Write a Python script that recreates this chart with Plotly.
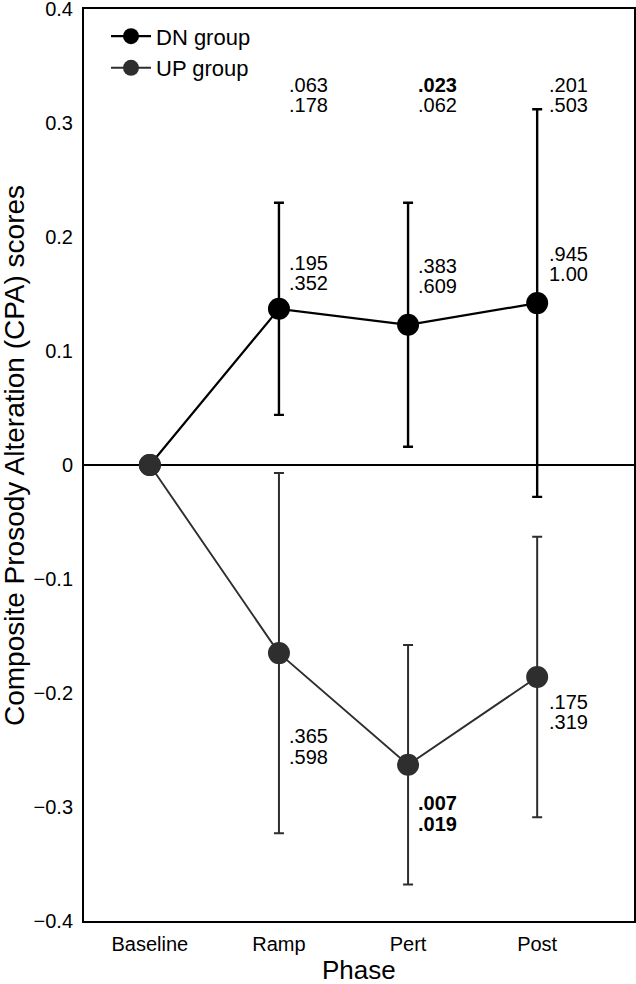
import plotly.graph_objects as go

# ---- data ----
phases = ["Baseline", "Ramp", "Pert", "Post"]
dn_mean = [0.0, 0.137, 0.123, 0.142]
dn_err = [0.0, 0.093, 0.107, 0.170]
up_mean = [0.0, -0.165, -0.263, -0.186]
up_err = [0.0, 0.158, 0.105, 0.123]

# p-value labels (two lines each), bold flags
top_labels = {"Ramp": [".063", ".178"], "Pert": [".023", ".062"], "Post": [".201", ".503"]}
top_bold = {"Ramp": [False, False], "Pert": [True, False], "Post": [False, False]}
dn_labels = {"Ramp": [".195", ".352"], "Pert": [".383", ".609"], "Post": [".945", "1.00"]}
dn_bold = {"Ramp": [False, False], "Pert": [False, False], "Post": [False, False]}
up_labels = {"Ramp": [".365", ".598"], "Pert": [".007", ".019"], "Post": [".175", ".319"]}
up_bold = {"Ramp": [False, False], "Pert": [True, True], "Post": [False, False]}

yticks = [0.4, 0.3, 0.2, 0.1, 0, -0.1, -0.2, -0.3, -0.4]
ytick_text = ["0.4", "0.3", "0.2", "0.1", "0", "\u22120.1", "\u22120.2", "\u22120.3", "\u22120.4"]

# ---- placement (layout only) ----
top_y = {"Ramp": [0.3335, 0.316], "Pert": [0.3335, 0.316], "Post": [0.3335, 0.316]}
dn_y = {"Ramp": [0.1768, 0.1593], "Pert": [0.1742, 0.1567], "Post": [0.1847, 0.1672]}
up_y = {"Ramp": [-0.2381, -0.2565], "Pert": [-0.2967, -0.3151], "Post": [-0.2083, -0.2258]}

FONT = "Liberation Sans, Arial, sans-serif"
DN_COL = "#000000"
UP_COL = "#2e2e2e"

fig = go.Figure()
fig.add_trace(go.Scatter(
    x=phases, y=dn_mean, name="DN group", mode="lines+markers",
    line=dict(color=DN_COL, width=2.2),
    marker=dict(color=DN_COL, size=22),
    error_y=dict(type="data", array=dn_err, color=DN_COL, thickness=2.4, width=5),
))
fig.add_trace(go.Scatter(
    x=phases, y=up_mean, name="UP group", mode="lines+markers",
    line=dict(color=UP_COL, width=1.9),
    marker=dict(color=UP_COL, size=22),
    error_y=dict(type="data", array=up_err, color=UP_COL, thickness=2, width=5),
))

annotations = []
def add_labels(labels, bolds, ys):
    for ph, lines in labels.items():
        for i, t in enumerate(lines):
            txt = f"<b>{t}</b>" if bolds[ph][i] else t
            annotations.append(dict(
                x=ph, y=ys[ph][i], xref="x", yref="y", text=txt, showarrow=False,
                xanchor="left", yanchor="middle", xshift=8 if ph != "Post" else 10,
                font=dict(family=FONT, size=20, color="#000"),
            ))

add_labels(top_labels, top_bold, top_y)
add_labels(dn_labels, dn_bold, dn_y)
add_labels(up_labels, up_bold, up_y)

# axis titles
annotations.append(dict(
    x=0, y=0.5, xref="paper", yref="paper", text="Composite Prosody Alteration (CPA) scores",
    textangle=-90, showarrow=False, xanchor="center", yanchor="middle", xshift=-70, yshift=9,
    font=dict(family=FONT, size=28, color="#000"),
))
annotations.append(dict(
    x=0.5, y=0, xref="paper", yref="paper", text="Phase",
    showarrow=False, xanchor="center", yanchor="middle", yshift=-49,
    font=dict(family=FONT, size=26, color="#000"),
))

fig.update_layout(
    width=636, height=984,
    margin=dict(l=84, r=2, t=9, b=63, autoexpand=False),
    paper_bgcolor="white", plot_bgcolor="white",
    font=dict(family=FONT, color="#000"),
    showlegend=True,
    legend=dict(x=0.04, y=0.993, xanchor="left", yanchor="top",
                font=dict(family=FONT, size=22, color="#000"),
                bgcolor="rgba(0,0,0,0)", itemwidth=40, tracegroupgap=0),
    annotations=annotations,
)
fig.update_xaxes(
    type="category", range=[-0.51, 3.75], showgrid=False, zeroline=False, automargin=False,
    showline=True, linecolor="#000", linewidth=2, mirror=True, ticks="",
    tickfont=dict(family=FONT, size=20, color="#000"), ticklabelstandoff=4,
)
fig.update_yaxes(
    range=[-0.4, 0.4], tickvals=yticks, ticktext=ytick_text, showgrid=False, automargin=False,
    zeroline=True, zerolinecolor="#000", zerolinewidth=1.6, ticklabeloverflow="allow",
    showline=True, linecolor="#000", linewidth=2, mirror=True, ticks="",
    tickfont=dict(family=FONT, size=20, color="#000"), ticklabelstandoff=5,
)

fig.write_html("out.html", config={"displayModeBar": False},
               post_script="document.body.style.margin='0';")
